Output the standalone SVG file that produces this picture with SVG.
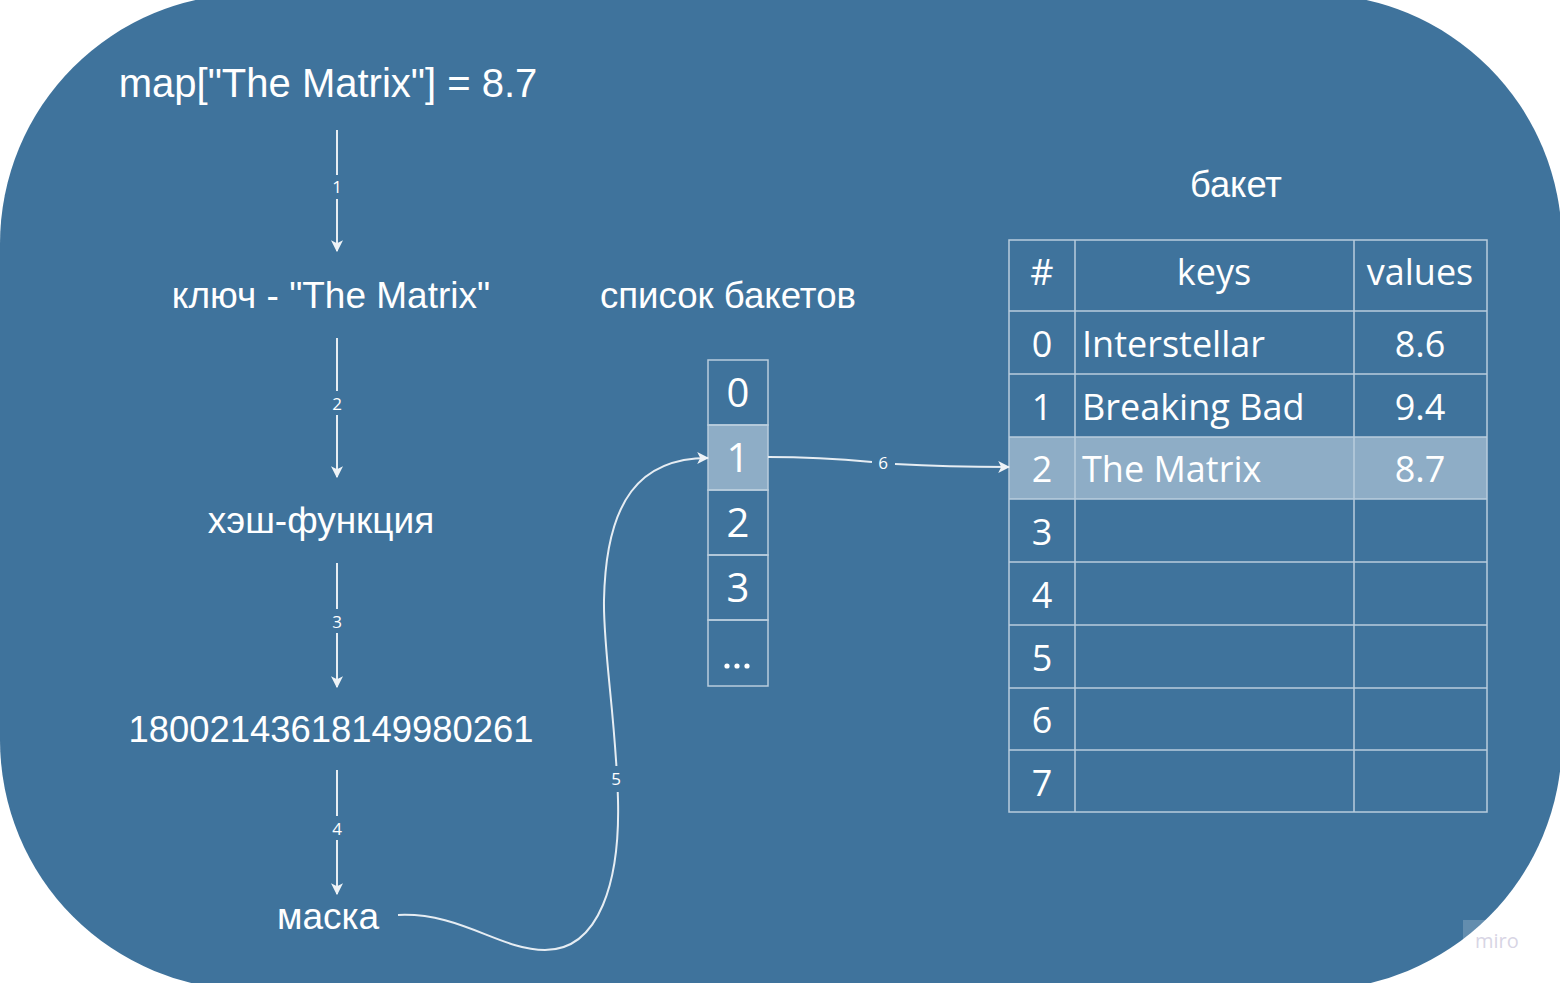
<svg xmlns="http://www.w3.org/2000/svg" width="1560" height="983" viewBox="0 0 1560 983">
<defs>
<marker id="ah" viewBox="0 0 10 10" refX="9" refY="5" markerWidth="12" markerHeight="12" markerUnits="userSpaceOnUse" orient="auto">
<path d="M0,0 L10,5 L0,10 L2.5,5 Z" fill="#eef3f7"/>
</marker>
<style>
.t{font-family:"Liberation Sans",Arial,sans-serif;fill:#ffffff;text-anchor:middle}
.o{font-family:"Open Sans","DejaVu Sans",sans-serif;fill:#ffffff}
.c{text-anchor:middle}
.lbl{font-family:"Open Sans","DejaVu Sans",sans-serif;fill:#ffffff;font-size:17px;text-anchor:middle}
.ln{stroke:#e6edf3;stroke-width:2;fill:none}
.cell{fill:none;stroke:#b9cddd;stroke-width:1.5}
</style>
</defs>
<rect width="1560" height="983" fill="#ffffff"/>
<rect id="frame" x="0" y="-6" width="1562" height="996" rx="250" ry="250" fill="#3f739c"/>

<g id="n-title"><text class="t" x="328" y="97" font-size="40">map["The Matrix"] = 8.7</text></g>
<g id="n-key"><text class="t" x="331" y="308" font-size="37">ключ - "The Matrix"</text></g>
<g id="n-hash"><text class="t" x="321" y="533" font-size="37">хэш-функция</text></g>
<g id="n-num"><text class="t" x="331" y="742" font-size="36.4">18002143618149980261</text></g>
<g id="n-mask"><text class="t" x="328" y="929" font-size="37">маска</text></g>
<g id="n-listlabel"><text class="t" x="728" y="308" font-size="37" textLength="256" lengthAdjust="spacingAndGlyphs">список бакетов</text></g>
<g id="n-bucketlabel"><text class="t" x="1236" y="197" font-size="37" textLength="92" lengthAdjust="spacingAndGlyphs">бакет</text></g>

<g id="n-bucketlist">
<rect x="708" y="425" width="60" height="65" fill="#8eadc6"/>
<rect class="cell" x="708" y="360" width="60" height="65"/>
<rect class="cell" x="708" y="425" width="60" height="65"/>
<rect class="cell" x="708" y="490" width="60" height="65"/>
<rect class="cell" x="708" y="555" width="60" height="65"/>
<rect class="cell" x="708" y="620" width="60" height="66"/>
<g class="o c" font-size="40">
<text x="738" y="407">0</text>
<text x="738" y="472">1</text>
<text x="738" y="537">2</text>
<text x="738" y="602">3</text>
</g>
<circle cx="727" cy="666" r="2.6" fill="#fff"/><circle cx="737" cy="666" r="2.6" fill="#fff"/><circle cx="747" cy="666" r="2.6" fill="#fff"/>
</g>

<g id="n-table">
<rect x="1009" y="437" width="478" height="62" fill="#8eadc6"/>
<rect class="cell" x="1009" y="240" width="478" height="572"/>
<path class="cell" d="M1075,240V812 M1354,240V812 M1009,311H1487 M1009,374H1487 M1009,437H1487 M1009,499H1487 M1009,562H1487 M1009,625H1487 M1009,688H1487 M1009,750H1487"/>
<g class="o" font-size="36">
<text class="c" x="1042" y="285">#</text>
<text class="c" x="1214" y="285">keys</text>
<text class="c" x="1420" y="285">values</text>
<text class="c" x="1042" y="357">0</text>
<text class="c" x="1042" y="420">1</text>
<text class="c" x="1042" y="482">2</text>
<text class="c" x="1042" y="545">3</text>
<text class="c" x="1042" y="608">4</text>
<text class="c" x="1042" y="671">5</text>
<text class="c" x="1042" y="733">6</text>
<text class="c" x="1042" y="796">7</text>
<text x="1082" y="357">Interstellar</text>
<text x="1082" y="420">Breaking Bad</text>
<text x="1082" y="482">The Matrix</text>
<text class="c" x="1420" y="357">8.6</text>
<text class="c" x="1420" y="420">9.4</text>
<text class="c" x="1420" y="482">8.7</text>
</g>
</g>

<g id="connectors">
<path class="ln" d="M337,130V175"/><path class="ln" d="M337,199V251" marker-end="url(#ah)"/>
<text class="lbl" x="337" y="193">1</text>
<path class="ln" d="M337,338V391"/><path class="ln" d="M337,415V477" marker-end="url(#ah)"/>
<text class="lbl" x="337" y="410">2</text>
<path class="ln" d="M337,563V609"/><path class="ln" d="M337,633V687" marker-end="url(#ah)"/>
<text class="lbl" x="337" y="628">3</text>
<path class="ln" d="M337,770V816"/><path class="ln" d="M337,840V894" marker-end="url(#ah)"/>
<text class="lbl" x="337" y="835">4</text>
<path class="ln" d="M398,915 C460,912 500,950 545,950 C600,950 620,880 618,800 C616,720 603,650 604,600 C606,500 640,458 708,458" marker-end="url(#ah)"/>
<rect x="606" y="766" width="20" height="26" fill="#3f739c"/>
<text class="lbl" x="616" y="785">5</text>
<path class="ln" d="M768,457 C810,457 840,459 872,462"/>
<path class="ln" d="M895,464 C930,466 970,467 1009,467" marker-end="url(#ah)"/>
<text class="lbl" x="883" y="469">6</text>
</g>

<g id="watermark" opacity="0.55">
<rect x="1463" y="920" width="48" height="36" fill="#ffffff" opacity="0.35"/>
<text x="1475" y="948" font-family="Open Sans, sans-serif" font-size="20" fill="#b8b3cf">miro</text>
</g>
</svg>
